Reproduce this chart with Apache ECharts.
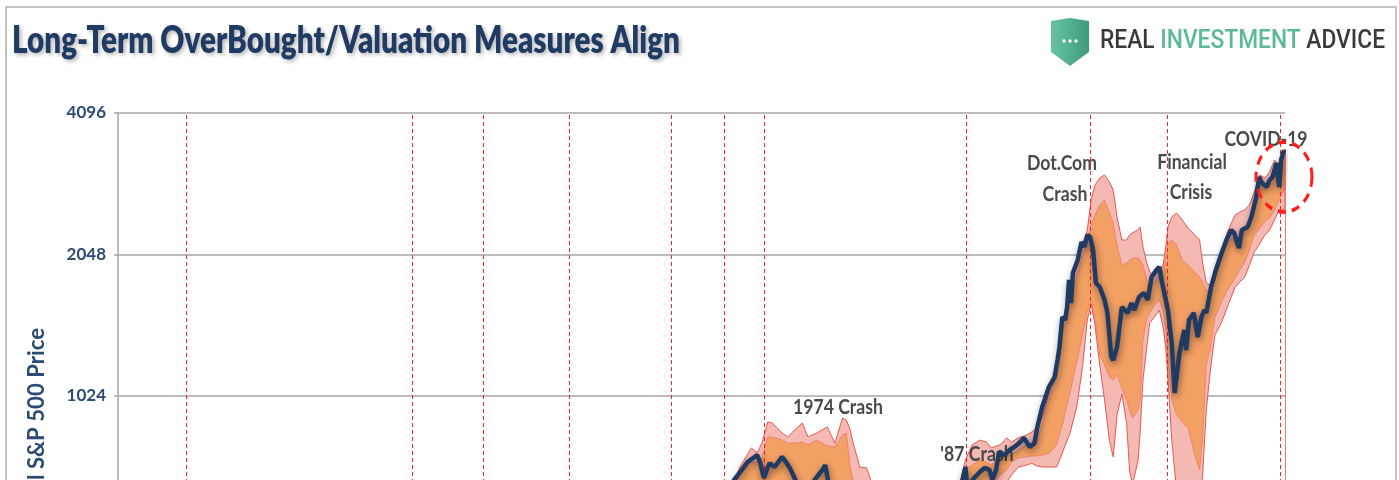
<!DOCTYPE html>
<html>
<head>
<meta charset="utf-8">
<script src="https://cdn.jsdelivr.net/npm/echarts/dist/echarts.min.js"></script>
<style>
  html, body { margin: 0; padding: 0; background: #ffffff; }
  #chart { width: 1399px; height: 480px; }
</style>
</head>
<body>
<div id="chart"></div>
<script>
// Real S&P 500 price on a log2 scale, with valuation bands and crash markers.

// Monthly-ish real price readings (decimal years)
const lineYears = [1962.6,1963.6,1964.4,1965.0,1965.6,1966.0,1966.3,1966.7,1967.0,1967.3,1967.8,1968.2,1968.6,1969.0,1969.4,1969.9,1970.4,1971.7,1972.3,1972.8,1973.1,1973.4,1974.1,1974.8,1976.8,1978.0,1980.0,1982.6,1985.0,1986.5,1987.4,1987.7,1987.9,1988.6,1989.2,1989.7,1990.2,1990.5,1990.9,1991.2,1991.8,1992.3,1992.8,1993.3,1993.8,1994.4,1994.9,1995.2,1995.7,1996.4,1997.0,1997.3,1997.5,1997.8,1998.1,1998.3,1998.5,1998.7,1998.9,1999.4,1999.8,2000.1,2000.4,2000.7,2001.0,2001.3,2001.7,2002.2,2002.5,2002.9,2003.1,2003.5,2004.0,2004.6,2005.0,2005.3,2005.8,2006.3,2006.7,2007.1,2007.6,2007.9,2008.2,2008.8,2009.2,2009.5,2009.7,2010.0,2010.5,2010.7,2011.0,2011.5,2011.9,2012.3,2012.6,2012.8,2013.3,2013.8,2014.4,2014.9,2015.4,2015.7,2016.2,2016.5,2017.1,2017.5,2018.0,2018.3,2018.6,2019.1,2019.4,2019.7,2020.1,2020.4,2020.6,2020.9];
const lineValues = [615,679,713,741,756,767,741,685,713,737,723,741,760,741,720,685,652,666,692,713,730,673,558,420,480,420,400,340,500,620,679,723,652,685,706,720,713,679,713,778,767,786,798,813,834,798,813,880,970,1070,1124,1221,1302,1508,1486,1584,1808,1615,1871,1993,2177,2125,2253,2230,2094,1781,1747,1639,1538,1239,1221,1302,1584,1538,1615,1560,1663,1696,1639,1834,1898,1927,1781,1560,1327,1039,1030,1264,1415,1283,1486,1538,1367,1508,1560,1538,1747,1898,2063,2199,2309,2276,2114,2309,2343,2461,2714,2994,2907,2851,2950,2994,3206,2851,3254,3417];

// Valuation band edges, sampled on a shared set of years
const bandYears = [1963.2,1964.2,1965.4,1966.0,1966.5,1967.1,1967.6,1968.6,1969.2,1969.9,1970.7,1971.3,1972.2,1973.3,1974.1,1974.9,1975.3,1975.7,1976.0,1976.7,1977.4,1977.9,1978.8,1982.9,1987.1,1987.7,1988.4,1989.2,1989.9,1990.4,1991.3,1992.0,1992.5,1993.2,1994.1,1994.6,1995.1,1995.8,1996.5,1997.2,1997.8,1998.6,1999.3,1999.9,2000.4,2000.8,2001.2,2001.7,2002.2,2002.7,2003.1,2003.5,2004.0,2004.5,2004.8,2005.1,2005.7,2005.9,2006.2,2006.6,2006.9,2007.4,2007.9,2008.3,2008.6,2008.8,2009.2,2009.7,2010.3,2010.9,2011.6,2012.1,2012.4,2012.8,2013.2,2013.7,2014.4,2015.0,2015.8,2016.3,2016.8,2017.3,2017.8,2018.4,2018.9,2019.4,2019.9,2020.4,2021.0];
const pinkUpper = [646,723,794,775,813,902,897,854,838,867,897,838,854,880,813,919,910,867,813,723,720,672,615,558,662,748,806,825,817,794,806,834,817,834,846,858,875,933,1055,1192,1450,1763,1974,2146,2309,2675,2879,2979,3023,2922,2809,2461,2199,2199,2253,2276,2309,2343,2125,1965,1880,1843,1898,1946,2146,2343,2461,2510,2425,2332,2253,2199,1974,1781,1763,1917,2094,2287,2485,2522,2547,2610,2782,3023,2979,3068,3254,3175,3434];
const orangeUpper = [630,695,741,741,756,838,838,825,813,813,817,806,825,802,798,846,854,723,679,630,600,586,558,531,640,713,730,748,741,730,756,767,767,786,806,798,806,910,1029,1135,1380,1639,1852,2043,2177,2367,2485,2610,2675,2522,2390,2146,1946,1965,1993,2014,2014,1993,1946,1808,1763,1790,1852,1898,2043,2167,2199,2146,1993,1946,1880,1834,1790,1721,1704,1808,2014,2167,2253,2146,2287,2367,2610,2879,2809,2879,3068,2922,3254];
const orangeLower = [586,630,646,662,646,646,646,646,630,615,600,615,630,615,558,531,531,531,531,531,531,506,506,459,600,646,646,646,662,662,695,713,741,756,760,763,763,767,775,806,888,1039,1209,1380,1545,1623,1500,1252,1192,1124,1108,1135,1065,1004,956,919,956,1004,1347,1500,1538,1599,1639,1560,1415,1221,1004,933,902,875,767,713,825,1192,1283,1508,1623,1721,1825,1898,1974,2094,2253,2332,2402,2449,2547,2675,2851];
const pinkLower = [558,600,615,630,615,615,615,615,600,586,558,586,600,586,531,459,459,459,459,459,459,459,416,416,572,615,615,615,630,630,646,672,695,723,730,737,727,723,723,723,775,854,970,1180,1486,1607,1450,1192,1004,825,760,933,1034,897,713,662,748,854,1108,1302,1464,1508,1560,1436,1283,1124,825,646,615,586,615,646,685,956,1152,1380,1471,1584,1747,1790,1834,1946,2073,2167,2253,2309,2425,2547,2547];

// Market-stress dates marked with dashed verticals
const eventYears = [1906.5,1930.1,1937.5,1946.4,1957.0,1962.6,1966.7,1987.8,2000.75,2008.7,2020.5];
const lastYear = 2021.0;

// Annotation texts
const titleText = 'Long-Term OverBought/Valuation Measures Align';
const axisTitle = 'Real S&P 500 Price';
const notes = ['1974 Crash', "'87 Crash", 'Dot.Com', 'Crash', 'Financial', 'Crisis', 'COVID-19'];
const brandWords = ['REAL', 'INVESTMENT', 'ADVICE'];

const NAVY = '#1F3B63';
const measureCtx = document.createElement('canvas').getContext('2d');
function measure(str, font) { measureCtx.font = font; return measureCtx.measureText(str).width; }

function bandPolygon(upper, lower, fill, stroke, z) {
  return {
    type: 'custom',
    silent: true,
    z: z,
    data: [0],
    renderItem: function (params, api) {
      const pts = [];
      for (let i = 0; i < bandYears.length; i++) pts.push(api.coord([bandYears[i], upper[i]]));
      for (let i = bandYears.length - 1; i >= 0; i--) pts.push(api.coord([bandYears[i], lower[i]]));
      return { type: 'polygon', shape: { points: pts }, style: { fill: fill, stroke: stroke, lineWidth: 1 } };
    }
  };
}

// Text helpers: fonts are squeezed horizontally to fit their boxes
const titleScale = 668 / measure(titleText, '800 38px Lato');
const noteFontStr = 'bold 20px Lato';
const noteScale = 90 / measure(notes[0], noteFontStr);
const axisFontStr = 'bold 22px Lato';
const axisScale = 152 / measure('l S&P 500 Price', axisFontStr);
const brandFontStr = '500 25px Roboto';
const brandGap = measure(' ', brandFontStr);
const brandScale = 285 / measure(brandWords.join(' '), brandFontStr);

function noteText(str, cx, cy) {
  return {
    type: 'text', x: cx, y: cy, scaleX: noteScale, z: 4,
    style: { text: str, fill: '#4A4A4A', fontSize: 20, fontWeight: 'bold', fontFamily: 'Lato', align: 'center', verticalAlign: 'middle' }
  };
}

const brandElems = [];
let bx = 1100;
brandWords.forEach(function (w, i) {
  brandElems.push({
    type: 'text', x: bx, y: 42, scaleX: brandScale,
    style: { text: w, fill: i === 1 ? '#5BB89A' : '#3A3A3A', fontSize: 25, fontWeight: 500, fontFamily: 'Roboto', align: 'left', verticalAlign: 'middle' }
  });
  bx += (measure(w, brandFontStr) + brandGap) * brandScale;
});

const chart = echarts.init(document.getElementById('chart'), null, { renderer: 'canvas' });

chart.setOption({
  animation: false,
  backgroundColor: '#ffffff',
  grid: { left: 118, top: 113, width: 1167, height: 566, outerBoundsMode: 'none', containLabel: false },
  xAxis: {
    type: 'value', min: 1899.4, max: lastYear,
    axisLine: { show: false }, axisTick: { show: false }, axisLabel: { show: false }, splitLine: { show: false }
  },
  yAxis: {
    type: 'log', logBase: 2, min: 256, max: 4096,
    axisLine: { show: true, lineStyle: { color: '#A6A6A6', width: 1.5 } },
    axisTick: { show: true, length: 4, lineStyle: { color: '#A6A6A6', width: 1.5 } },
    splitLine: { show: true, lineStyle: { color: '#A6A6A6', width: 1.5 } },
    axisLabel: {
      color: '#2B4A74', fontWeight: 'bold', fontFamily: 'Lato', fontSize: 17, margin: 12,
      formatter: function (v) { return String(Math.round(v)); }
    }
  },
  series: [
    bandPolygon(pinkUpper, pinkLower, '#F5B9B4', '#E8574D', 2),
    bandPolygon(orangeUpper, orangeLower, '#F3A064', 'rgba(232,87,77,0.45)', 3),
    {
      type: 'line', z: 5,
      data: lineYears.map(function (y, i) { return [y, lineValues[i]]; }),
      showSymbol: false, smooth: false,
      lineStyle: { color: NAVY, width: 4.5, shadowColor: 'rgba(0,0,0,0.45)', shadowBlur: 7, shadowOffsetX: 1, shadowOffsetY: 3 },
      markLine: {
        silent: true, symbol: 'none', animation: false,
        label: { show: false },
        lineStyle: { color: '#FF2020', width: 1, type: [4, 3] },
        data: eventYears.map(function (y) { return { xAxis: y }; }).concat([
          [ { coord: [lastYear, lineValues[lineValues.length - 1]], lineStyle: { type: 'solid', color: '#F07A72', width: 1 } },
            { coord: [lastYear, 256] } ]
        ])
      }
    }
  ],
  graphic: [
    { type: 'rect', z: -10, shape: { x: 6, y: 7, width: 1390, height: 560 }, style: { fill: 'none', stroke: '#C4C4C4', lineWidth: 2 } },
    {
      type: 'text', x: 12, y: 41, scaleX: titleScale,
      style: {
        text: titleText, fill: NAVY, fontSize: 38, fontWeight: 800, fontFamily: 'Lato',
        align: 'left', verticalAlign: 'middle',
        textShadowColor: 'rgba(0,0,0,0.30)', textShadowBlur: 4, textShadowOffsetX: 2, textShadowOffsetY: 2
      }
    },
    {
      type: 'polygon', shape: { points: [[1051, 21], [1070, 18], [1089, 21], [1089, 52], [1070, 66], [1051, 52]] },
      style: { fill: new echarts.graphic.LinearGradient(0, 0, 1, 0, [{ offset: 0, color: '#66C4A4' }, { offset: 1, color: '#3F9A7E' }]) }
    },
    { type: 'circle', shape: { cx: 1064, cy: 41, r: 1.7 }, style: { fill: '#ffffff' } },
    { type: 'circle', shape: { cx: 1070, cy: 41, r: 1.7 }, style: { fill: '#ffffff' } },
    { type: 'circle', shape: { cx: 1076, cy: 41, r: 1.7 }, style: { fill: '#ffffff' } }
  ].concat(brandElems).concat([
    {
      type: 'text', x: 37, y: 328, rotation: Math.PI / 2, scaleX: axisScale,
      style: { text: axisTitle, fill: '#2B4A74', fontSize: 22, fontWeight: 'bold', fontFamily: 'Lato', align: 'right', verticalAlign: 'middle' }
    },
    noteText(notes[0], 838, 408),
    noteText(notes[1], 977, 455),
    noteText(notes[2], 1062, 164),
    noteText(notes[3], 1065, 195),
    noteText(notes[4], 1192, 163),
    noteText(notes[5], 1191, 193),
    noteText(notes[6], 1266, 140),
    {
      type: 'circle', z: 20, x: 1284, y: 177, scaleY: 1.25,
      shape: { cx: 0, cy: 0, r: 28 },
      style: { fill: 'none', stroke: '#FF1E1E', lineWidth: 3, lineDash: [8, 6] }
    }
  ])
});
</script>
</body>
</html>
